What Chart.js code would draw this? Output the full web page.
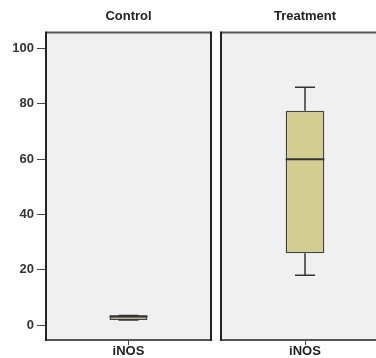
<!DOCTYPE html>
<html>
<head>
<meta charset="utf-8">
<script src="https://cdn.jsdelivr.net/npm/chart.js@4"></script>
<style>
  html, body { margin: 0; padding: 0; background: #fff; overflow: hidden; }
  #wrap { position: relative; width: 376px; height: 358px; overflow: hidden; }
  .panel { position: absolute; top: 0; height: 358px; }
  #p1 { left: 0; width: 213px; }
  #p2 { left: 213px; width: 178px; }
</style>
</head>
<body>
<div id="wrap">
  <div class="panel" id="p1"><canvas id="chartControl"></canvas></div>
  <div class="panel" id="p2"><canvas id="chartTreatment"></canvas></div>
</div>
<script>
var groups = ['Control', 'Treatment'];
var categories = ['iNOS'];
var whiskerLow = [1.8, 18];
var q1 = [1.8, 26];
var median = [3.2, 60];
var q3 = [3.2, 77.5];
var whiskerHigh = [3.5, 86];
var yTicks = [0, 20, 40, 60, 80, 100];

var fontBold = { family: 'Arial, "Liberation Sans", sans-serif', size: 13, weight: 'bold', lineHeight: 1 };

// panel frame, whiskers and median line
var boxPlot = {
    id: 'boxPlot',
    beforeDatasetsDraw: function (chart) {
        var a = chart.chartArea, c = chart.ctx;
        c.save();
        c.fillStyle = '#f0f0f0';
        c.fillRect(a.left, a.top, a.right - a.left, a.bottom - a.top);
        c.restore();
    },
    afterDatasetsDraw: function (chart) {
        var g = chart.options.plugins.boxPlot.group;
        var c = chart.ctx, a = chart.chartArea;
        var x = chart.scales.x.getPixelForValue(0);
        var y = chart.scales.y;
        var cap = 10;
        var bar = chart.getDatasetMeta(0).data[0];
        c.save();
        c.strokeStyle = '#333';
        c.lineWidth = 1.5;
        c.beginPath();
        c.moveTo(x, y.getPixelForValue(whiskerHigh[g]));
        c.lineTo(x, y.getPixelForValue(q3[g]));
        c.moveTo(x, y.getPixelForValue(q1[g]));
        c.lineTo(x, y.getPixelForValue(whiskerLow[g]));
        c.moveTo(x - cap, y.getPixelForValue(whiskerHigh[g]));
        c.lineTo(x + cap, y.getPixelForValue(whiskerHigh[g]));
        c.moveTo(x - cap, y.getPixelForValue(whiskerLow[g]));
        c.lineTo(x + cap, y.getPixelForValue(whiskerLow[g]));
        c.stroke();
        c.beginPath();
        c.lineWidth = 2;
        c.moveTo(bar.x - bar.width / 2, y.getPixelForValue(median[g]));
        c.lineTo(bar.x + bar.width / 2, y.getPixelForValue(median[g]));
        c.stroke();
        // frame
        c.lineWidth = 2;
        c.strokeStyle = '#555';
        c.beginPath();
        c.moveTo(a.right, a.top);
        c.lineTo(a.left, a.top);
        c.moveTo(a.left, a.bottom);
        c.lineTo(a.right, a.bottom);
        c.stroke();
        c.strokeStyle = '#222';
        c.beginPath();
        c.moveTo(a.left, a.top - 1);
        c.lineTo(a.left, a.bottom + 1);
        c.moveTo(a.right, a.top - 1);
        c.lineTo(a.right, a.bottom + 1);
        c.stroke();
        c.restore();
    }
};

function makeChart(id, g, showY) {
    return new Chart(document.getElementById(id), {
        type: 'bar',
        data: {
            labels: categories,
            datasets: [{
                label: groups[g],
                data: [[q1[g], q3[g]]],
                backgroundColor: '#d3cd92',
                borderColor: '#444',
                borderWidth: 1.5,
                borderSkipped: false,
                barPercentage: 0.23,
                categoryPercentage: 1
            }]
        },
        options: {
            responsive: true,
            maintainAspectRatio: false,
            animation: false,
            layout: { padding: { left: showY ? 0 : 8, right: 2, top: 3, bottom: 0 } },
            plugins: {
                legend: { display: false },
                tooltip: { enabled: false },
                title: {
                    display: true,
                    text: groups[g],
                    fullSize: false,
                    color: '#222',
                    font: { family: fontBold.family, size: 13, weight: 'bold', lineHeight: 1.2 },
                    padding: { top: 6, bottom: 8 }
                },
                boxPlot: { group: g }
            },
            scales: {
                x: {
                    offset: true,
                    grid: { display: true, offset: false, drawOnChartArea: false, drawTicks: true, tickLength: 5, color: '#444' },
                    border: { display: false },
                    ticks: { color: '#222', font: fontBold, padding: 0 }
                },
                y: {
                    display: showY,
                    min: -5.4,
                    max: 105.8,
                    afterBuildTicks: function (s) { s.ticks = yTicks.map(function (v) { return { value: v }; }); },
                    afterFit: function (s) { if (showY) s.width = 46; },
                    grid: { drawOnChartArea: false, drawTicks: true, tickLength: 9, color: '#444' },
                    border: { display: false },
                    ticks: { color: '#333', font: fontBold, padding: 3 }
                }
            }
        },
        plugins: [boxPlot]
    });
}

makeChart('chartControl', 0, true);
makeChart('chartTreatment', 1, false);
</script>
</body>
</html>
